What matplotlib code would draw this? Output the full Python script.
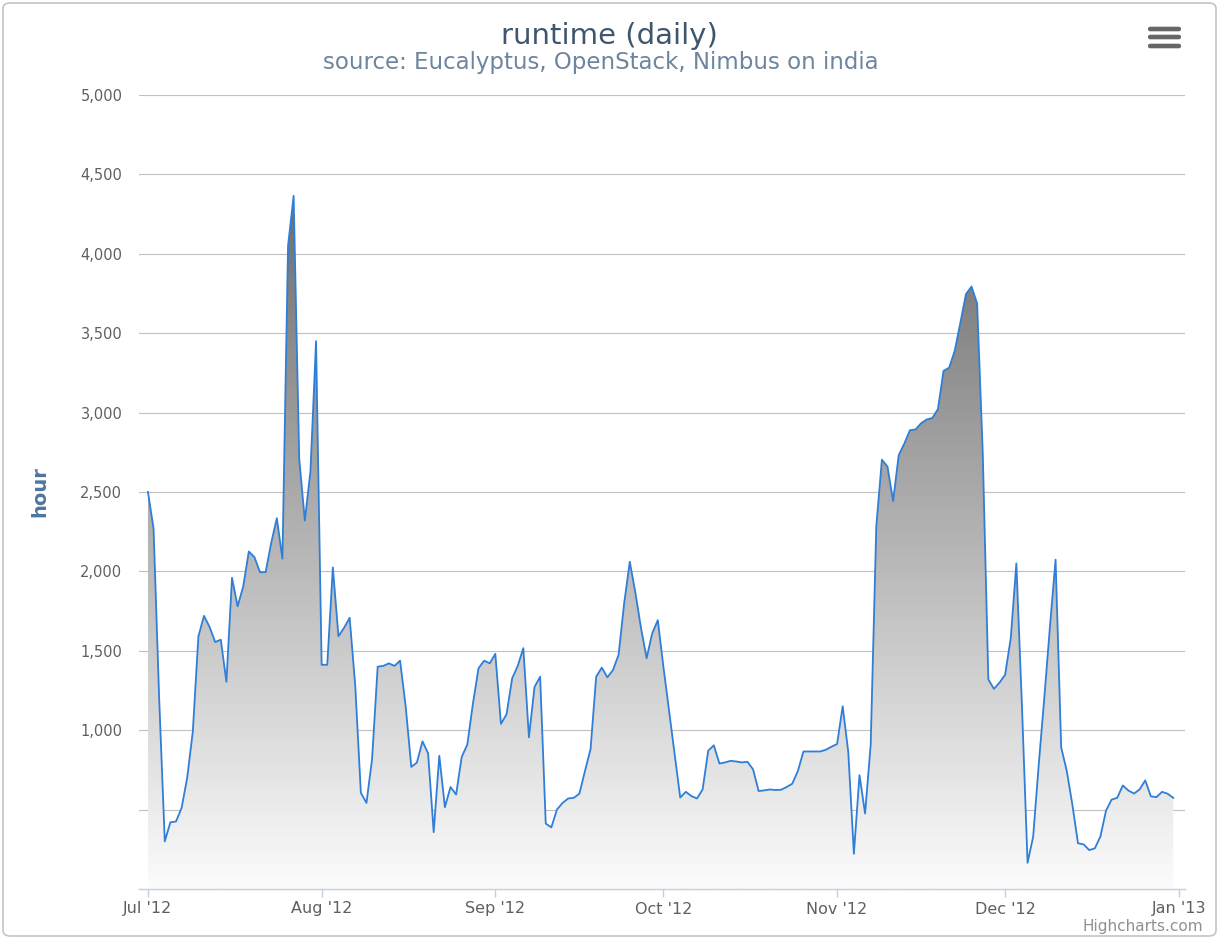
import numpy as np
import pandas as pd
import matplotlib
matplotlib.use("Agg")
import matplotlib.pyplot as plt
import matplotlib.dates as mdates
from matplotlib.patches import FancyBboxPatch

# daily runtime (hours), Jul 1 2012 .. Dec 31 2012
start_date = "2012-07-01"
runtime_jul = [2500, 2270, 1200, 300, 420, 425, 510, 700, 990, 1590,
               1720, 1650, 1555, 1570, 1305, 1960, 1780, 1905, 2125, 2090,
               1995, 1995, 2180, 2335, 2080, 4050, 4365, 2710, 2320, 2630, 3450]
runtime_aug = [1412, 1412, 2025, 1592, 1645, 1708, 1280, 606, 542, 818,
               1400, 1405, 1421, 1405, 1438, 1150, 769, 796, 930, 854,
               358, 839, 515, 642, 595, 832, 909, 1167, 1390, 1438, 1421]
runtime_sep = [1481, 1040, 1100, 1326, 1405, 1517, 955, 1273, 1337, 412,
               388, 500, 542, 570, 574, 600, 743, 881, 1337, 1394,
               1333, 1379, 1475, 1800, 2061, 1866, 1644, 1453, 1610, 1693]
runtime_oct = [1400, 1127, 852, 576, 612, 585, 570, 627, 871, 905,
               790, 797, 807, 803, 797, 801, 754, 617, 621, 627,
               623, 625, 642, 663, 743, 866, 866, 866, 866, 877, 896]
runtime_nov = [913, 1151, 862, 222, 717, 475, 910, 2286, 2703, 2660,
               2443, 2732, 2805, 2889, 2894, 2933, 2957, 2966, 3022, 3263,
               3283, 3389, 3565, 3746, 3794, 3686, 2750, 1320, 1260, 1300]
runtime_dec = [1350, 1580, 2050, 1150, 165, 330, 786, 1210, 1655, 2074,
               892, 743, 530, 288, 281, 245, 256, 330, 493, 563,
               574, 652, 620, 601, 627, 684, 584, 578, 612, 600, 574]

y_ticks = [500, 1000, 1500, 2000, 2500, 3000, 3500, 4000, 4500, 5000]
y_labels = ["", "1,000", "1,500", "2,000", "2,500", "3,000", "3,500", "4,000", "4,500", "5,000"]

title = "runtime (daily)"
subtitle = "source: Eucalyptus, OpenStack, Nimbus on india"

runtime = runtime_jul + runtime_aug + runtime_sep + runtime_oct + runtime_nov + runtime_dec
dates = pd.date_range(start_date, periods=len(runtime), freq="D")
x = mdates.date2num(dates)
y = np.array(runtime, dtype=float)

plt.rcParams["font.family"] = ["DejaVu Sans"]

W, H = 1219, 939
fig = plt.figure(figsize=(W / 100, H / 100), dpi=100)
fig.patch.set_facecolor("white")

# chart frame
fig.add_artist(FancyBboxPatch((3 / W, 3 / H), (W - 6) / W, (H - 6) / H,
                              boxstyle="round,pad=0,rounding_size=0.006",
                              transform=fig.transFigure, facecolor="none",
                              edgecolor="#c4c4c4", linewidth=1.2))

left, right, top, bottom = 139, 1185, 95, 889
ax = fig.add_axes([left / W, 1 - bottom / H, (right - left) / W, (bottom - top) / H])
ax.set_facecolor("white")

x0 = x[0]
ax.set_xlim(x0 - 1.6, x0 + 185.1)
ax.set_ylim(0, 5000)

# gradient fill under the line
fill = ax.fill_between(x, y, 0, facecolor="none", edgecolor="none")
grad = np.linspace(0, 1, 256).reshape(-1, 1)
cmap = matplotlib.colors.LinearSegmentedColormap.from_list("g", ["#fcfcfc", "#6c6c6c"])
img = ax.imshow(grad, aspect="auto", cmap=cmap, origin="lower",
                extent=[x0 - 1.6, x0 + 185.1, 0, 4400], zorder=1)
img.set_clip_path(fill.get_paths()[0], transform=ax.transData)
ax.set_ylim(0, 5000)

ax.plot(x, y, color="#2f7ed8", linewidth=1.3, zorder=3, solid_joinstyle="round")

# grid and axes
ax.set_yticks(y_ticks)
ax.set_yticklabels(y_labels)
ax.yaxis.grid(True, color="#c0c0c0", linewidth=0.8, zorder=0)
ax.set_axisbelow(True)
for s in ["top", "right", "left"]:
    ax.spines[s].set_visible(False)
ax.spines["bottom"].set_color("#c0d0e0")
ax.spines["bottom"].set_linewidth(1.0)
ax.tick_params(axis="y", length=0, pad=12, labelsize=10.5, labelcolor="#606060")

month_ticks = pd.date_range("2012-07-01", "2013-01-01", freq="MS")
ax.set_xticks(mdates.date2num(month_ticks))
ax.xaxis.set_major_formatter(mdates.DateFormatter("%b '%y"))
ax.tick_params(axis="x", direction="out", length=6, width=1, color="#c0d0e0",
               pad=3, labelsize=11.5, labelcolor="#606060")

fig.text(609 / W, 1 - 36 / H, title, ha="center", va="center",
         fontsize=21, color="#3e576f")
fig.text(601 / W, 1 - 62.5 / H, subtitle, ha="center", va="center",
         fontsize=16.5, color="#6d869f")
fig.text(40 / W, 1 - 492 / H, "hour", ha="center", va="center", rotation=90,
         fontsize=14, fontweight="bold", color="#4d759e")
fig.text(1203 / W, 1 - 926 / H, "Highcharts.com", ha="right", va="center",
         fontsize=11, color="#909090")

# export menu icon
for cy in (29, 37, 46):
    fig.add_artist(FancyBboxPatch((1148 / W, (H - cy - 2.3) / H), 33 / W, 4.6 / H,
                                  boxstyle="round,pad=0,rounding_size=0.002",
                                  transform=fig.transFigure, facecolor="#666666",
                                  edgecolor="none"))

fig.savefig("out.png", dpi=100)
